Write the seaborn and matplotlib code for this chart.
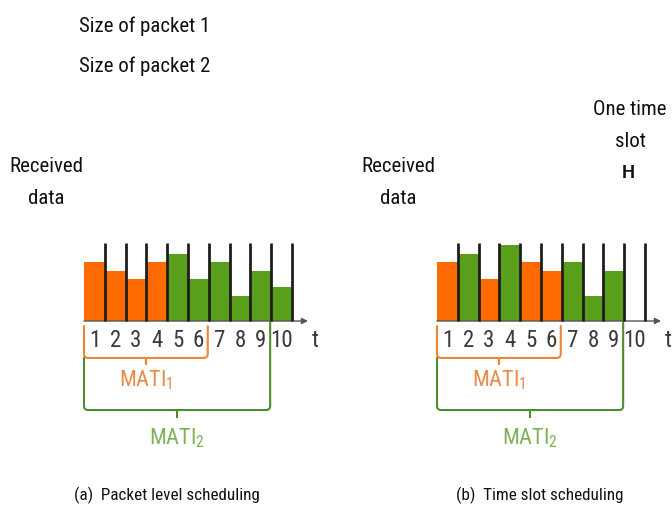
import matplotlib
matplotlib.use("Agg")
import matplotlib.pyplot as plt
from matplotlib.path import Path
from matplotlib.patches import PathPatch
import seaborn as sns
import pandas as pd

# ---- data ---------------------------------------------------------------
slots = ["1", "2", "3", "4", "5", "6", "7", "8", "9", "10"]
packets = ["Packet 1", "Packet 2"]

# (a) packet level scheduling: packet 1 sent first, then packet 2
packet_level_sizes = [7, 6, 5, 7, 8, 5, 7, 3, 6, 4]
packet_level_owner = ["Packet 1"] * 4 + ["Packet 2"] * 6

# (b) time slot scheduling: packets interleaved, slot 10 unused
time_slot_slots = ["1", "2", "3", "4", "5", "6", "7", "8", "9"]
time_slot_sizes = [7, 8, 5, 9, 7, 6, 7, 3, 6]
time_slot_owner = ["Packet 1", "Packet 2", "Packet 1", "Packet 2",
                   "Packet 1", "Packet 1", "Packet 2", "Packet 2", "Packet 2"]

slot_capacity = 9.3          # height of the slot separators
mati_1_last_slot = 6         # MATI_1 spans slots 1..6
mati_2_last_slot = 9         # MATI_2 spans slots 1..9

legend_labels = ["Size of packet 1", "Size of packet 2"]
captions = ["(a)  Packet level scheduling", "(b)  Time slot scheduling"]

# ---- style --------------------------------------------------------------
sns.set_style("white")
NARROW = ["Roboto Condensed", "Liberation Sans", "DejaVu Sans"]
plt.rcParams["font.family"] = NARROW
plt.rcParams["mathtext.fontset"] = "custom"
plt.rcParams["mathtext.rm"] = "Roboto Condensed"
plt.rcParams["mathtext.it"] = "Roboto Condensed"

ORANGE = "#FF6A00"
GREEN = "#5A9F1C"
MATI1_TEXT = "#E98A45"
MATI1_LINE = "#EE8434"
MATI2_TEXT = "#7DB256"
MATI2_LINE = "#4F8C2C"
DIGIT = "#3A3A3A"

W, H = 672, 524
fig = plt.figure(figsize=(W / 100, H / 100), dpi=100)

PX_X = 20.8   # pixels per slot
PX_Y = 8.4    # pixels per size unit
BASE_Y = 321  # baseline pixel row


def panel_axes(px0, px1, first_edge):
    """Axes whose data coordinates put slot 1 (index 0) left edge at first_edge."""
    py0, py1 = 225, 470
    ax = fig.add_axes([px0 / W, 1 - py1 / H, (px1 - px0) / W, (py1 - py0) / H])
    return ax, (-0.5 + (px0 - first_edge) / PX_X, -0.5 + (px1 - first_edge) / PX_X), \
        ((BASE_Y - py1) / PX_Y, (BASE_Y - py0) / PX_Y)


def bracket(ax, x0, x1, y_left, y_right, y_bot, y_tick, color, lw):
    rx, ry = 0.2, 0.5
    verts = [(x0, y_left), (x0, y_bot + ry), (x0, y_bot), (x0 + rx, y_bot),
             (x1 - rx, y_bot), (x1, y_bot), (x1, y_bot + ry), (x1, y_right)]
    codes = [Path.MOVETO, Path.LINETO, Path.CURVE3, Path.CURVE3,
             Path.LINETO, Path.CURVE3, Path.CURVE3, Path.LINETO]
    ax.add_patch(PathPatch(Path(verts, codes), fill=False, ec=color, lw=lw,
                           capstyle="round", joinstyle="round"))
    xm = (x0 + x1) / 2
    ax.plot([xm, xm], [y_bot, y_tick], color=color, lw=lw, solid_capstyle="butt")


def draw_panel(ax, xlim, ylim, slot_list, sizes, owner):
    df = pd.DataFrame({"slot": slot_list, "size": sizes, "packet": owner})
    sns.barplot(data=df, x="slot", y="size", hue="packet", order=slots,
                hue_order=packets, palette=[ORANGE, GREEN], dodge=False,
                width=1.0, linewidth=0, saturation=1, legend=False, ax=ax)
    n = len(slots)
    ax.vlines([i + 0.5 for i in range(n)], 0, slot_capacity,
              color="#1E1E1E", lw=2.0, zorder=3)
    ax.annotate("", xy=(n + 0.27, 0), xytext=(-0.5, 0),
                arrowprops=dict(arrowstyle="-|>", color="#555555", lw=1.0,
                                mutation_scale=9, shrinkA=0, shrinkB=0),
                zorder=1)
    for i, lab in enumerate(slots):
        ax.text(i, -2.3, lab, ha="center", va="center", fontsize=16.5,
                color=DIGIT)
    ax.text(n + 0.62, -2.3, "t", ha="center", va="center", fontsize=17,
            color=DIGIT)

    e1 = mati_1_last_slot - 0.55
    e2 = mati_2_last_slot - 0.55
    bracket(ax, -0.5, e1, -0.6, -0.6, -4.4, -5.2, MATI1_LINE, 1.5)
    ax.text((-0.5 + e1) / 2, -7.0, r"MATI$_1$", ha="center", va="center",
            fontsize=16, color=MATI1_TEXT)
    bracket(ax, -0.5, e2, -4.4, 0, -10.6, -11.6, MATI2_LINE, 1.5)
    ax.text((-0.5 + e2) / 2, -13.9, r"MATI$_2$", ha="center", va="center",
            fontsize=16, color=MATI2_TEXT)

    ax.set_xlim(*xlim)
    ax.set_ylim(*ylim)
    ax.set_axis_off()


ax_a, xl, yl = panel_axes(40, 330, 84)
draw_panel(ax_a, xl, yl, slots, packet_level_sizes, packet_level_owner)

ax_b, xl, yl = panel_axes(393, 672, 437)
draw_panel(ax_b, xl, yl, time_slot_slots, time_slot_sizes, time_slot_owner)


def ftext(px, py, s, **kw):
    kw.setdefault("fontsize", 15)
    kw.setdefault("color", "#111111")
    fig.text(px / W, 1 - py / H, s, **kw)


ftext(79, 32, legend_labels[0], ha="left", va="baseline")
ftext(79, 72, legend_labels[1], ha="left", va="baseline")

for cx in (46, 398):
    ftext(cx, 172, "Received", ha="center", va="baseline")
    ftext(cx, 204, "data", ha="center", va="baseline")

ftext(630, 115, "One time", ha="center", va="baseline")
ftext(630, 147, "slot", ha="center", va="baseline")
ftext(628, 178, "H", ha="center", va="baseline", fontsize=13, weight="bold",
      family=["Liberation Sans", "DejaVu Sans"])

ftext(167, 500, captions[0], ha="center", va="baseline", fontsize=12.3)
ftext(540, 500, captions[1], ha="center", va="baseline", fontsize=12.3)

fig.savefig("out.png", dpi=100, facecolor="white")
